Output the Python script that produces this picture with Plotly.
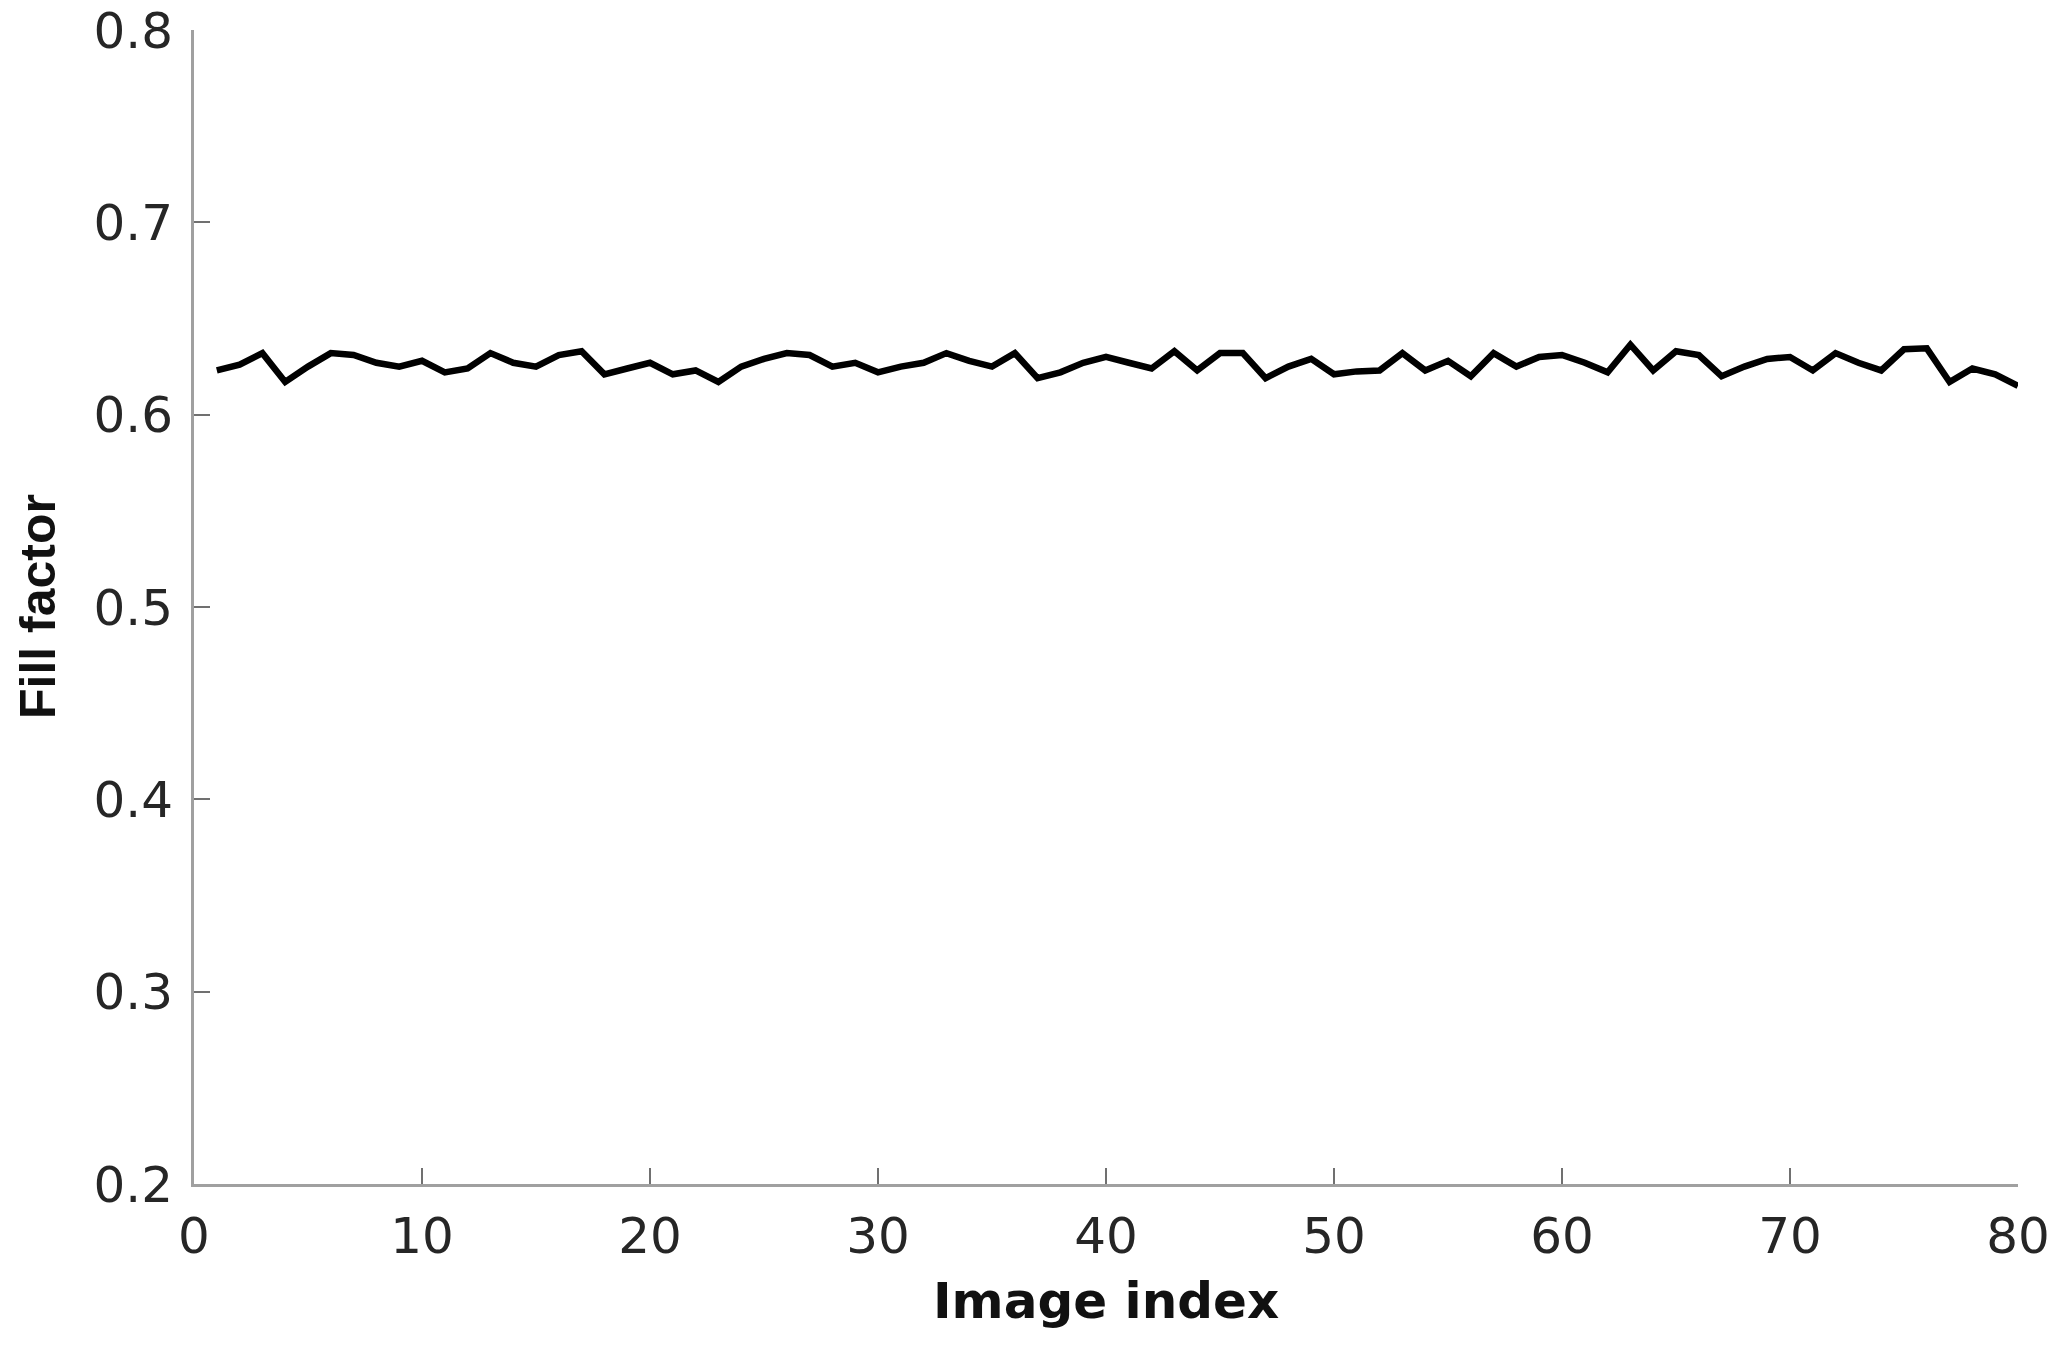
import plotly.graph_objects as go

image_index = list(range(1, 81))
fill_factor = [
    0.623, 0.626, 0.632, 0.617, 0.625, 0.632, 0.631, 0.627, 0.625, 0.628,
    0.622, 0.624, 0.632, 0.627, 0.625, 0.631, 0.633, 0.621, 0.624, 0.627,
    0.621, 0.623, 0.617, 0.625, 0.629, 0.632, 0.631, 0.625, 0.627, 0.622,
    0.625, 0.627, 0.632, 0.628, 0.625, 0.632, 0.619, 0.622, 0.627, 0.630,
    0.627, 0.624, 0.633, 0.623, 0.632, 0.632, 0.619, 0.625, 0.629, 0.621,
    0.6225, 0.623, 0.632, 0.623, 0.628, 0.620, 0.632, 0.625, 0.630, 0.631,
    0.627, 0.622, 0.6364, 0.623, 0.633, 0.631, 0.620, 0.625, 0.629, 0.630,
    0.623, 0.632, 0.627, 0.623, 0.634, 0.6345, 0.617, 0.624, 0.621, 0.615,
]
x_ticks = [0, 10, 20, 30, 40, 50, 60, 70, 80]
y_ticks = [0.2, 0.3, 0.4, 0.5, 0.6, 0.7, 0.8]
x_title = "Image index"
y_title = "Fill factor"

fig = go.Figure()
fig.add_trace(go.Scatter(
    x=image_index, y=fill_factor, mode="lines",
    line=dict(color="black", width=6.5), showlegend=False,
))

tick_font = dict(family="DejaVu Sans, sans-serif", size=50, color="#262626")
axis_common = dict(
    showgrid=False, zeroline=False, showline=True,
    linecolor="#a0a0a0", linewidth=3,
    ticks="inside", ticklen=16, tickwidth=2, tickcolor="#707070",
    tickfont=tick_font, mirror=False,
)

fig.update_layout(
    width=2065, height=1345,
    paper_bgcolor="white", plot_bgcolor="white",
    margin=dict(l=194, r=47, t=30, b=161, autoexpand=False),
    xaxis=dict(
        range=[0, 80], tickvals=x_ticks, ticktext=[str(v) for v in x_ticks],
        ticklabelstandoff=6, **axis_common,
    ),
    yaxis=dict(
        range=[0.2, 0.8], tickvals=y_ticks, ticktext=[f"{v:.1f}" for v in y_ticks],
        ticklabelstandoff=8, **axis_common,
    ),
)

fig.add_annotation(
    text=f"<b>{x_title}</b>", xref="paper", yref="paper", x=0.5, y=0,
    xanchor="center", yanchor="middle", yshift=-117, showarrow=False,
    font=dict(family="DejaVu Sans, sans-serif", size=50, color="#111111"),
)
fig.add_annotation(
    text=f"<b>{y_title}</b>", xref="paper", yref="paper", x=0, y=0.5,
    xanchor="center", yanchor="middle", xshift=-156, textangle=-90, showarrow=False,
    font=dict(family="Liberation Sans, Arial, sans-serif", size=50, color="#111111"),
)

fig.write_html(
    "out.html",
    config={"displayModeBar": False},
    post_script="document.body.style.margin='0px';document.body.style.overflow='hidden';",
)
